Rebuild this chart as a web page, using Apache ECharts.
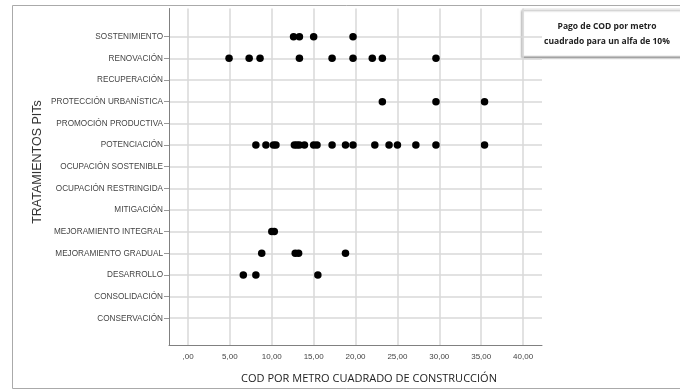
<!DOCTYPE html>
<html>
<head>
<meta charset="utf-8">
<script src="https://cdn.jsdelivr.net/npm/echarts@6/dist/echarts.min.js"></script>
<style>
html,body{margin:0;padding:0;background:#fff;}
#chart{width:680px;height:390px;}
</style>
</head>
<body>
<div id="chart"></div>
<script>
// Categories, bottom (index 0) to top
const categories = [
  'CONSERVACIÓN',
  'CONSOLIDACIÓN',
  'DESARROLLO',
  'MEJORAMIENTO GRADUAL',
  'MEJORAMIENTO INTEGRAL',
  'MITIGACIÓN',
  'OCUPACIÓN RESTRINGIDA',
  'OCUPACIÓN SOSTENIBLE',
  'POTENCIACIÓN',
  'PROMOCIÓN PRODUCTIVA',
  'PROTECCIÓN URBANÍSTICA',
  'RECUPERACIÓN',
  'RENOVACIÓN',
  'SOSTENIMIENTO'
];
// COD values per category
const conservacion = [];
const consolidacion = [];
const desarrollo = [6.6, 8.1, 15.5];
const mejoramientoGradual = [8.8, 12.8, 13.2, 18.8];
const mejoramientoIntegral = [10.0, 10.3];
const mitigacion = [];
const ocupacionRestringida = [];
const ocupacionSostenible = [];
const potenciacion = [8.1, 9.3, 10.2, 10.5, 12.7, 13.0, 13.3, 13.9, 15.0, 15.4, 17.2, 18.8, 19.7, 22.3, 24.0, 25.0, 27.2, 29.6, 35.4];
const promocionProductiva = [];
const proteccionUrbanistica = [23.2, 29.6, 35.4];
const recuperacion = [];
const renovacion = [4.9, 7.3, 8.6, 13.3, 17.2, 19.7, 22.0, 23.2, 29.6];
const sostenimiento = [12.6, 13.3, 15.0, 19.7];

const valuesByCategory = [conservacion, consolidacion, desarrollo, mejoramientoGradual, mejoramientoIntegral,
  mitigacion, ocupacionRestringida, ocupacionSostenible, potenciacion, promocionProductiva,
  proteccionUrbanistica, recuperacion, renovacion, sostenimiento];

const xTicks = [0, 5, 10, 15, 20, 25, 30, 35, 40];
const xTickLabels = [',00', '5,00', '10,00', '15,00', '20,00', '25,00', '30,00', '35,00', '40,00'];
const yTicks = categories.map((c, i) => i);

const points = [];
valuesByCategory.forEach((arr, i) => arr.forEach(v => points.push([v, i])));

const chart = echarts.init(document.getElementById('chart'), null, {renderer: 'canvas'});
chart.setOption({
  animation: false,
  backgroundColor: '#fff',
  grid: {left: 169, right: 138, top: 8.5, bottom: 45, containLabel: false},
  title: [
    {text: 'COD POR METRO CUADRADO DE CONSTRUCCIÓN', left: 364, top: 368, textAlign: 'center',
     textStyle: {fontFamily: 'Open Sans', fontSize: 11, fontWeight: 'normal', color: '#222'}}
  ],
  xAxis: {
    type: 'value', min: -2.27, max: 42.26,
    axisLine: {show: true, onZero: false, lineStyle: {color: '#808080', width: 1}},
    axisTick: {show: false, customValues: xTicks},
    axisLabel: {customValues: xTicks, margin: 8, fontFamily: 'Liberation Sans', fontSize: 8, color: '#444',
      formatter: v => xTickLabels[xTicks.indexOf(Math.round(v))] || ''},
    splitLine: {show: true, lineStyle: {color: '#d8d8d8', width: 1.5}}
  },
  yAxis: {
    type: 'value', min: -1.235, max: 14.30,
    axisLine: {show: true, onZero: false, lineStyle: {color: '#808080', width: 1}},
    axisTick: {show: true, length: 5, customValues: yTicks, lineStyle: {color: '#999'}},
    axisLabel: {customValues: yTicks, margin: 6, fontFamily: 'Liberation Sans', fontSize: 8.2, color: '#444',
      formatter: v => categories[Math.round(v)] || ''},
    splitLine: {show: true, lineStyle: {color: '#d8d8d8', width: 1.5}}
  },
  series: [{
    type: 'scatter', data: points, symbol: 'circle', symbolSize: 7.5,
    itemStyle: {color: '#000', opacity: 1}
  }],
  graphic: [
    {type: 'rect', z: 100, shape: {x: 12.5, y: 5.5, width: 700, height: 383},
     style: {fill: 'none', stroke: '#aaa', lineWidth: 1}},
    {type: 'text', z: 100, x: 38, y: 162, rotation: Math.PI / 2,
     style: {x: 0, y: 0, text: 'TRATAMIENTOS PITs', textAlign: 'center', textVerticalAlign: 'middle',
       fontFamily: 'Liberation Sans', fontSize: 12.5, fill: '#333'}},
    {type: 'group', z: 110, children: [
      {type: 'rect', shape: {x: 523, y: 9, width: 170, height: 47},
       style: {fill: '#fff', stroke: '#e6e6e6', lineWidth: 1, shadowColor: 'rgba(0,0,0,0.35)', shadowBlur: 2, shadowOffsetX: -1, shadowOffsetY: 1.5}},
      {type: 'text', style: {x: 607, y: 27, text: 'Pago de COD por metro', textAlign: 'center', textVerticalAlign: 'middle',
        fontFamily: 'Open Sans', fontSize: 8.5, fontWeight: 'bold', fill: '#222'}},
      {type: 'text', style: {x: 607, y: 42, text: 'cuadrado para un alfa de 10%', textAlign: 'center', textVerticalAlign: 'middle',
        fontFamily: 'Open Sans', fontSize: 8.5, fontWeight: 'bold', fill: '#222'}}
    ]}
  ]
});
</script>
</body>
</html>
